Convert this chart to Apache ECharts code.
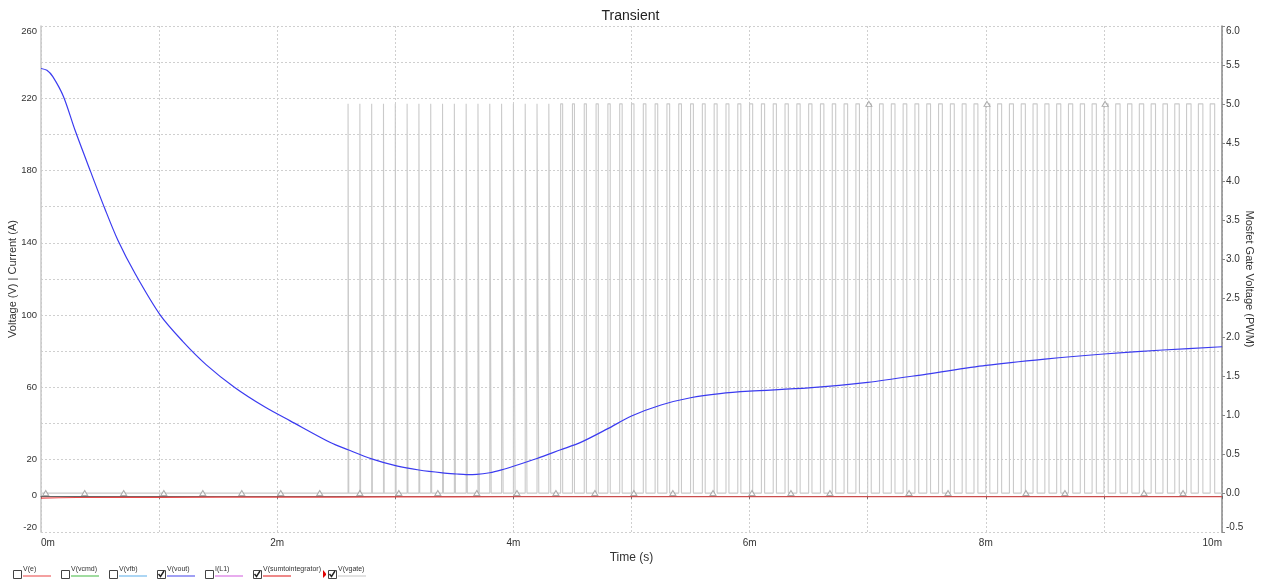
<!DOCTYPE html>
<html>
<head>
<meta charset="utf-8">
<script src="https://cdn.jsdelivr.net/npm/echarts@6/dist/echarts.min.js"></script>
<style>
html,body{margin:0;padding:0;background:#fff;}
#chart{width:1261px;height:582px;}
</style>
</head>
<body>
<div id="chart"></div>
<script>
// ---- data ----
var voutTime = [0, 0.05, 0.1, 0.19, 0.29, 0.42, 0.54, 0.65, 0.8, 1.01, 1.2, 1.4, 1.64, 1.9, 2.11, 2.45, 2.6, 2.8, 3.01, 3.2, 3.4, 3.52, 3.6, 3.69, 3.8, 3.9, 4.0, 4.2, 4.4, 4.57, 4.8, 5.0, 5.25, 5.5, 5.75, 6.0, 6.5, 7.0, 7.5, 8.0, 8.5, 9.0, 9.5, 10.0];
var voutValue = [236.5, 235.5, 232, 221, 202, 179.4, 159, 141.6, 122.6, 100, 85.5, 72.5, 60, 49, 41.5, 29.5, 25.5, 20.5, 16.6, 14.3, 12.7, 12.1, 11.8, 11.9, 12.8, 14.4, 16.4, 20.7, 25.5, 29.6, 37.2, 44.2, 50.3, 54.3, 56.6, 57.9, 59.7, 62.8, 67.4, 72.2, 75.7, 78.5, 80.7, 82.5];

var sumTime = [0, 0.3, 1, 2, 3, 4, 5, 6, 7, 8, 9, 10];
var sumValue = [-1.3, -0.9, -0.8, -0.7, -0.6, -0.5, -0.5, -0.5, -0.5, -0.5, -0.5, -0.5];

var pwmRise = [2.6, 2.7, 2.8, 2.9, 3.0, 3.1, 3.2, 3.3, 3.4, 3.5,
  3.6, 3.7, 3.8, 3.9, 4.0, 4.1, 4.2, 4.3, 4.4, 4.5,
  4.6, 4.7, 4.8, 4.9, 5.0, 5.1, 5.2, 5.3, 5.4, 5.5,
  5.6, 5.7, 5.8, 5.9, 6.0, 6.1, 6.2, 6.3, 6.4, 6.5,
  6.6, 6.7, 6.8, 6.9, 7.0, 7.1, 7.2, 7.3, 7.4, 7.5,
  7.6, 7.7, 7.8, 7.9, 8.0, 8.1, 8.2, 8.3, 8.4, 8.5,
  8.6, 8.7, 8.8, 8.9, 9.0, 9.1, 9.2, 9.3, 9.4, 9.5,
  9.6, 9.7, 9.8, 9.9];
var pwmWidth = [0.006, 0.006, 0.006, 0.006, 0.007, 0.007, 0.007, 0.008, 0.008, 0.009,
  0.010, 0.011, 0.012, 0.013, 0.014, 0.015, 0.015, 0.016, 0.017, 0.017,
  0.018, 0.019, 0.020, 0.021, 0.021, 0.022, 0.022, 0.023, 0.023, 0.024,
  0.024, 0.025, 0.025, 0.026, 0.026, 0.027, 0.027, 0.028, 0.028, 0.028,
  0.029, 0.029, 0.030, 0.030, 0.030, 0.031, 0.031, 0.031, 0.032, 0.032,
  0.032, 0.033, 0.033, 0.033, 0.034, 0.034, 0.034, 0.035, 0.035, 0.035,
  0.035, 0.036, 0.036, 0.036, 0.036, 0.037, 0.037, 0.037, 0.037, 0.038,
  0.038, 0.038, 0.038, 0.038];
var pwmHigh = 5.0;
var pwmLow = 0.0;

var markerTime = [0.04, 0.37, 0.70, 1.04, 1.37, 1.70, 2.03, 2.36, 2.70, 3.03, 3.36, 3.69, 4.03, 4.36, 4.69, 5.02, 5.35, 5.69, 6.02, 6.35, 6.68, 7.01, 7.35, 7.68, 8.01, 8.34, 8.67, 9.01, 9.34, 9.67];
var markerValue = [0, 0, 0, 0, 0, 0, 0, 0, 0, 0, 0, 0, 0, 0, 0, 0, 0, 0, 0, 0, 0, 5, 0, 0, 5, 0, 0, 5, 0, 0];

var leftTickLabels = [260, 220, 180, 140, 100, 60, 20, 0, -20];
var xLabelTicks = [0, 2, 4, 6, 8, 10];

var legendNames = ['V(e)', 'V(vcmd)', 'V(vfb)', 'V(vout)', 'I(L1)', 'V(sumtointegrator)', 'V(vgate)'];
var legendColors = ['#f08080', '#80d080', '#90c8f0', '#8080f0', '#e090e8', '#e86060', '#d8d8d8'];
var legendChecked = [false, false, false, true, false, true, true];
var legendX = [13, 61, 109, 157, 205, 253, 328];

// ---- build ----
function zip(a, b) { var r = []; for (var i = 0; i < a.length; i++) r.push([a[i], b[i]]); return r; }
var vgate = [[0, pwmLow], [pwmRise[0], pwmLow]];
for (var i = 0; i < pwmRise.length; i++) {
  var t0 = pwmRise[i], t1 = pwmRise[i] + pwmWidth[i];
  vgate.push([t0, pwmLow], [t0, pwmHigh], [t1, pwmHigh], [t1, pwmLow]);
}
vgate.push([10, pwmLow]);

var FONT = "'Liberation Sans Narrow', 'Liberation Sans', Arial, sans-serif";

var graphics = [];
for (var k = 0; k < legendNames.length; k++) {
  var x0 = legendX[k];
  graphics.push({ type: 'rect', left: x0, top: 570, shape: { width: 8, height: 8 },
    style: { fill: '#fff', stroke: '#444', lineWidth: 1 } });
  if (legendChecked[k]) {
    graphics.push({ type: 'polyline', shape: { points: [[x0 + 1.5, 574], [x0 + 3.5, 576.5], [x0 + 7, 571]] },
      style: { stroke: '#222', lineWidth: 1.4, fill: null } });
  }
  graphics.push({ type: 'text', left: x0 + 10, top: 566,
    style: { text: legendNames[k], fill: '#333', font: '7px ' + FONT } });
  graphics.push({ type: 'line', shape: { x1: x0 + 10, y1: 576, x2: x0 + 38, y2: 576 },
    style: { stroke: legendColors[k], lineWidth: 1.5 } });
}
graphics.push({ type: 'polygon', shape: { points: [[323, 570], [326, 573.5], [326, 575], [323, 578]] },
  style: { fill: '#e00000' } });

var chart = echarts.init(document.getElementById('chart'), null, { renderer: 'canvas' });
chart.setOption({
  animation: false,
  backgroundColor: '#fff',
  textStyle: { fontFamily: FONT },
  title: { text: 'Transient', left: 'center', top: 4,
    textStyle: { fontSize: 14, fontWeight: 'normal', color: '#222', fontFamily: FONT } },
  grid: { left: 41, right: 39, top: 26, bottom: 50, containLabel: false, outerBoundsMode: 'none' },
  xAxis: {
    type: 'value', min: 0, max: 10, interval: 1,
    name: 'Time (s)', nameLocation: 'middle', nameGap: 20, nameMoveOverlap: false,
    nameTextStyle: { fontSize: 12, color: '#333', fontFamily: FONT },
    axisLine: { lineStyle: { color: '#666', width: 1 } },
    axisTick: { show: true, length: 3, lineStyle: { color: '#666' } },
    axisLabel: { fontSize: 10, color: '#333', margin: 6, alignMinLabel: 'left', alignMaxLabel: 'right',
      formatter: function (v) { return xLabelTicks.indexOf(v) >= 0 ? v + 'm' : ''; } },
    splitLine: { show: true, lineStyle: { color: '#cfcfcf', type: [2, 2], width: 1 } }
  },
  yAxis: [{
    type: 'value', min: -20, max: 260, interval: 20, position: 'left',
    name: 'Voltage (V) | Current (A)', nameLocation: 'middle', nameGap: 23, nameMoveOverlap: false,
    nameTextStyle: { fontSize: 11, color: '#333', fontFamily: FONT },
    axisLine: { show: true, lineStyle: { color: '#c8c8c8', width: 1.5 } },
    axisTick: { show: false },
    axisLabel: { fontSize: 9.5, color: '#333', margin: 4,
      verticalAlignMinLabel: 'bottom', verticalAlignMaxLabel: 'top',
      formatter: function (v) { return leftTickLabels.indexOf(v) >= 0 ? String(v) : ''; } },
    splitLine: { show: true, lineStyle: { color: '#cfcfcf', type: [2, 2], width: 1 } }
  }, {
    type: 'value', min: -0.5, max: 6, interval: 0.5, position: 'right',
    name: 'Mosfet Gate Voltage (PWM)', nameLocation: 'middle', nameGap: 22, nameRotate: -90, nameMoveOverlap: false,
    nameTextStyle: { fontSize: 11, color: '#333', fontFamily: FONT },
    axisLine: { show: true, lineStyle: { color: '#888', width: 1.5 } },
    axisTick: { show: true, length: 3, lineStyle: { color: '#888' } },
    axisLabel: { fontSize: 10, color: '#333', margin: 4,
      verticalAlignMinLabel: 'bottom', verticalAlignMaxLabel: 'top',
      formatter: function (v) { return v.toFixed(1); } },
    splitLine: { show: false }
  }],
  series: [{
    name: 'V(vgate)', type: 'line', yAxisIndex: 1, data: vgate,
    showSymbol: false, symbol: 'none', silent: true,
    lineStyle: { color: '#cacaca', width: 1.1 }, z: 1
  }, {
    name: 'V(vgate) markers', type: 'scatter', yAxisIndex: 1, data: zip(markerTime, markerValue),
    symbol: 'triangle', symbolSize: [6, 5], silent: true,
    itemStyle: { color: '#fff', borderColor: '#999', borderWidth: 1 }, z: 2
  }, {
    name: 'V(sumtointegrator)', type: 'line', yAxisIndex: 0, data: zip(sumTime, sumValue),
    showSymbol: false, symbol: 'none', smooth: true,
    lineStyle: { color: '#e84848', width: 1.2 }, z: 3
  }, {
    name: 'V(vout)', type: 'line', yAxisIndex: 0, data: zip(voutTime, voutValue),
    showSymbol: false, symbol: 'none', smooth: 0.3,
    lineStyle: { color: '#3b3bf0', width: 1.2 }, z: 4
  }],
  graphic: graphics
});
</script>
</body>
</html>
